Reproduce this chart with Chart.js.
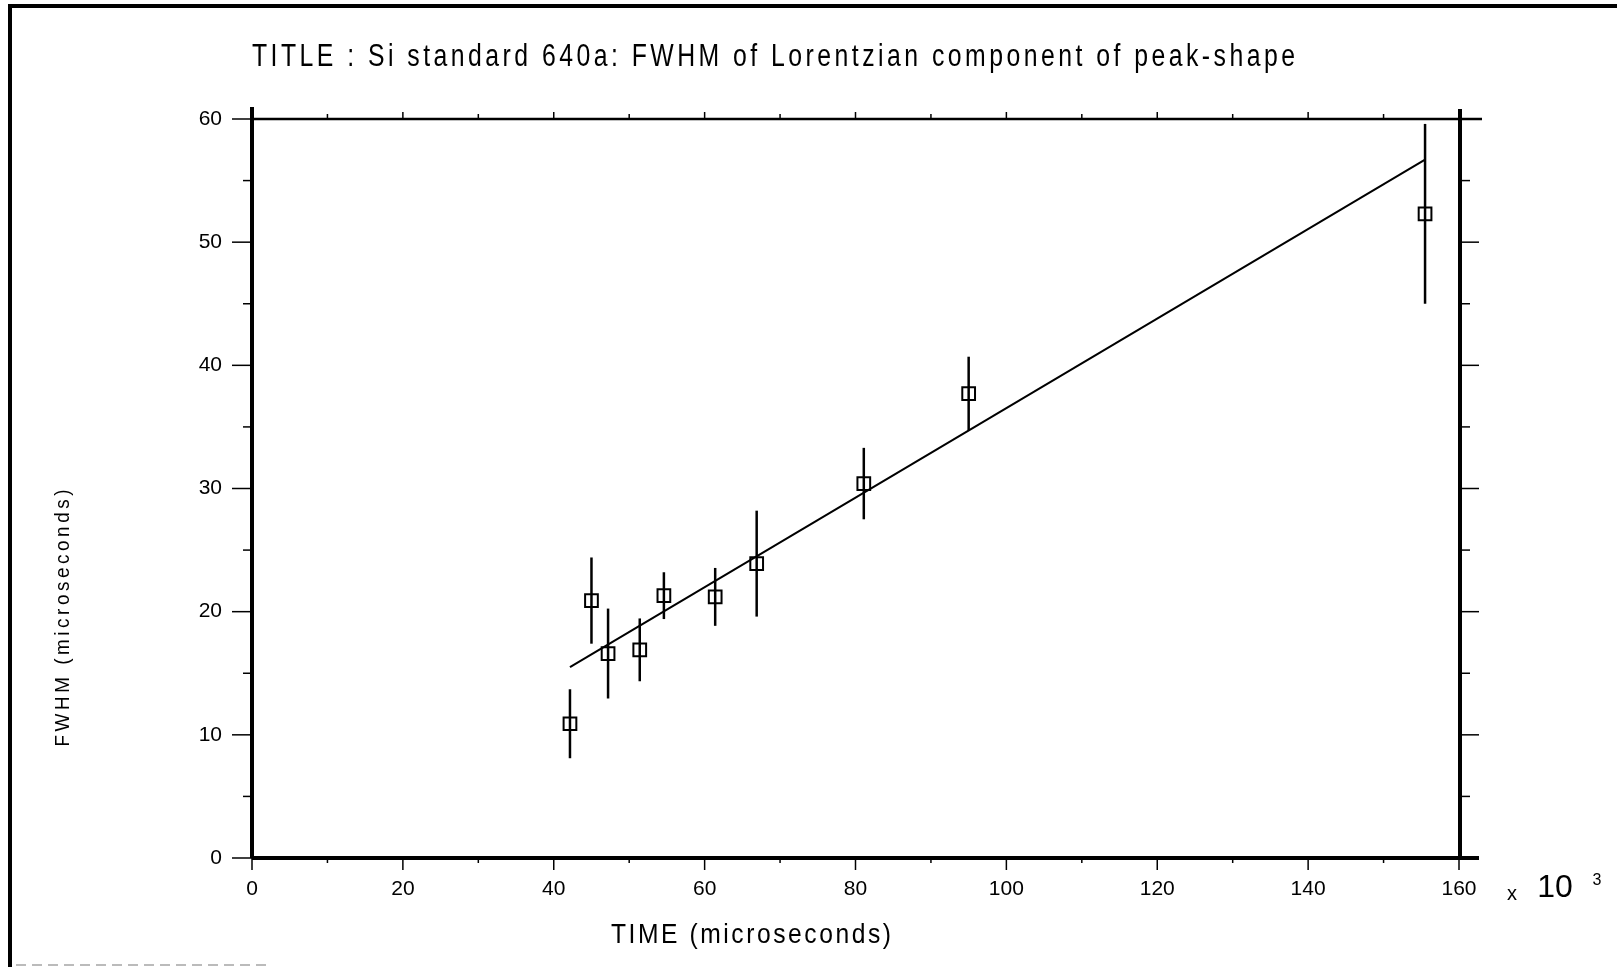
<!DOCTYPE html>
<html>
<head>
<meta charset="utf-8">
<script src="https://cdn.jsdelivr.net/npm/chart.js@4/dist/chart.umd.min.js"></script>
<style>
  html, body { margin: 0; padding: 0; background: #fff; }
  #wrap { width: 1617px; height: 967px; }
</style>
</head>
<body>
<div id="wrap"><canvas id="c" width="1617" height="967"></canvas></div>
<script>
// ---- data (x in units of 10^3 microseconds) ----
const timeK   = [42.15, 45.0, 47.2, 51.4, 54.6, 61.4, 66.9, 81.1, 95.0, 155.5];
const fwhm    = [10.9, 20.9, 16.6, 16.9, 21.3, 21.2, 23.9, 30.4, 37.7, 52.3];
const fwhmErr = [2.8, 3.5, 3.65, 2.55, 1.9, 2.35, 4.3, 2.9, 3.0, 7.3];
const fitTime = [42.15, 155.5];
const fitFwhm = [15.5, 56.7];
const xTickValues = [0, 20, 40, 60, 80, 100, 120, 140, 160];
const yTickValues = [0, 10, 20, 30, 40, 50, 60];

const titleText = 'TITLE : Si standard 640a: FWHM of Lorentzian component of peak-shape';
const xTitle = 'TIME (microseconds)';
const yTitle = 'FWHM (microseconds)';
const FONT = "'Liberation Sans', 'DejaVu Sans', sans-serif";

function drawFitted(ctx, text, x, y, font, width, hScale, align) {
  ctx.save();
  ctx.font = font;
  ctx.letterSpacing = '0px';
  const n = text.length;
  const w0 = ctx.measureText(text).width * hScale;
  const sp = (width - w0) / (n - 1) / hScale;
  ctx.letterSpacing = sp + 'px';
  ctx.textBaseline = 'middle';
  ctx.textAlign = 'left';
  let startX = x;
  if (align === 'center') startX = x - width / 2;
  ctx.translate(startX, y);
  ctx.scale(hScale, 1);
  ctx.fillText(text, 0, 0);
  ctx.restore();
}

const framePlugin = {
  id: 'frame',
  beforeDatasetsDraw(chart) {
    const ctx = chart.ctx;
    const xs = chart.scales.x, ys = chart.scales.y;
    ctx.save();
    ctx.strokeStyle = '#000';
    ctx.lineWidth = 2.5;
    ctx.lineCap = 'butt';
    for (let i = 0; i < timeK.length; i++) {
      const px = xs.getPixelForValue(timeK[i]);
      const top = ys.getPixelForValue(Math.min(60, fwhm[i] + fwhmErr[i]));
      const bot = ys.getPixelForValue(fwhm[i] - fwhmErr[i]);
      ctx.beginPath(); ctx.moveTo(px, top); ctx.lineTo(px, bot); ctx.stroke();
    }
    ctx.restore();
  },
  afterDraw(chart) {
    const ctx = chart.ctx;
    const xs = chart.scales.x, ys = chart.scales.y;
    const L = xs.getPixelForValue(0), R = xs.getPixelForValue(160);
    const B = ys.getPixelForValue(0), T = ys.getPixelForValue(60);
    ctx.save();
    ctx.strokeStyle = '#000';
    ctx.fillStyle = '#000';
    // outer page border
    ctx.lineWidth = 4;
    ctx.beginPath(); ctx.moveTo(10, 967); ctx.lineTo(10, 6); ctx.lineTo(1617, 6); ctx.stroke();
    ctx.strokeStyle = '#bbb'; ctx.lineWidth = 2; ctx.setLineDash([10, 6]);
    ctx.beginPath(); ctx.moveTo(16, 965); ctx.lineTo(270, 965); ctx.stroke();
    ctx.setLineDash([]);
    ctx.strokeStyle = '#000';
    // axes frame
    ctx.lineWidth = 4;
    ctx.beginPath(); ctx.moveTo(L, T - 12); ctx.lineTo(L, B); ctx.stroke();
    ctx.beginPath(); ctx.moveTo(L, B); ctx.lineTo(R + 20, B); ctx.stroke();
    ctx.beginPath(); ctx.moveTo(R + 1, T - 10); ctx.lineTo(R + 1, B); ctx.stroke();
    ctx.lineWidth = 2.5;
    ctx.beginPath(); ctx.moveTo(L, T); ctx.lineTo(R + 23, T); ctx.stroke();
    // y ticks (left outward, right outward)
    ctx.lineWidth = 1.5;
    for (let v = 0; v <= 60; v += 5) {
      const py = ys.getPixelForValue(v);
      const major = v % 10 === 0;
      ctx.beginPath(); ctx.moveTo(L - (major ? 20 : 9), py); ctx.lineTo(L, py); ctx.stroke();
      ctx.beginPath(); ctx.moveTo(R, py); ctx.lineTo(R + (major ? 20 : 11), py); ctx.stroke();
    }
    // x ticks (bottom down, top up)
    for (let v = 0; v <= 160; v += 10) {
      const px = xs.getPixelForValue(v);
      const major = v % 20 === 0;
      ctx.beginPath(); ctx.moveTo(px, B); ctx.lineTo(px, B + (major ? 12 : 5)); ctx.stroke();
      ctx.beginPath(); ctx.moveTo(px, T); ctx.lineTo(px, T - (major ? 7 : 5)); ctx.stroke();
    }
    // texts
    drawFitted(ctx, titleText, 252, 57, '31px ' + FONT, 1043, 0.8, 'left');
    drawFitted(ctx, xTitle, 751, 935, '28px ' + FONT, 280, 0.88, 'center');
    ctx.save();
    ctx.translate(63, 618);
    ctx.rotate(-Math.PI / 2);
    drawFitted(ctx, yTitle, 0, 0, '21px ' + FONT, 257, 0.9, 'center');
    ctx.restore();
    // x 10^3
    ctx.font = '20px ' + FONT; ctx.textAlign = 'center'; ctx.textBaseline = 'middle';
    ctx.fillText('x', 1512, 894);
    ctx.font = '32px ' + FONT;
    ctx.fillText('10', 1555, 888);
    ctx.font = '16px ' + FONT;
    ctx.fillText('3', 1597, 881);
    ctx.restore();
  }
};

new Chart(document.getElementById('c'), {
  type: 'scatter',
  data: {
    datasets: [
      {
        type: 'line',
        label: 'fit',
        data: fitTime.map((x, i) => ({ x: x, y: fitFwhm[i] })),
        borderColor: '#000',
        borderWidth: 2,
        pointRadius: 0,
        fill: false,
        tension: 0
      },
      {
        label: 'FWHM',
        data: timeK.map((x, i) => ({ x: x, y: fwhm[i] })),
        pointStyle: 'rect',
        pointRadius: 9,
        pointBorderWidth: 2,
        borderColor: '#000',
        backgroundColor: 'rgba(0,0,0,0)'
      }
    ]
  },
  options: {
    responsive: false,
    animation: false,
    events: [],
    layout: { padding: { left: 192, right: 158, top: 119, bottom: 49 } },
    plugins: { legend: { display: false }, title: { display: false }, tooltip: { enabled: false } },
    scales: {
      x: {
        type: 'linear', min: 0, max: 160,
        afterFit(s) { s.height = 60; },
        afterBuildTicks(s) { s.ticks = xTickValues.map(v => ({ value: v })); },
        grid: { display: false, drawTicks: false, tickLength: 0 },
        border: { display: false },
        ticks: { color: '#000', padding: 19, maxRotation: 0, autoSkip: false,
                 font: { family: FONT, size: 21 }, callback: v => String(v) }
      },
      y: {
        type: 'linear', min: 0, max: 60,
        afterFit(s) { s.width = 60; },
        afterBuildTicks(s) { s.ticks = yTickValues.map(v => ({ value: v })); },
        grid: { display: false, drawTicks: false, tickLength: 0 },
        border: { display: false },
        ticks: { color: '#000', padding: 30, autoSkip: false,
                 font: { family: FONT, size: 21 }, callback: v => String(v) }
      }
    }
  },
  plugins: [framePlugin]
});
</script>
</body>
</html>
